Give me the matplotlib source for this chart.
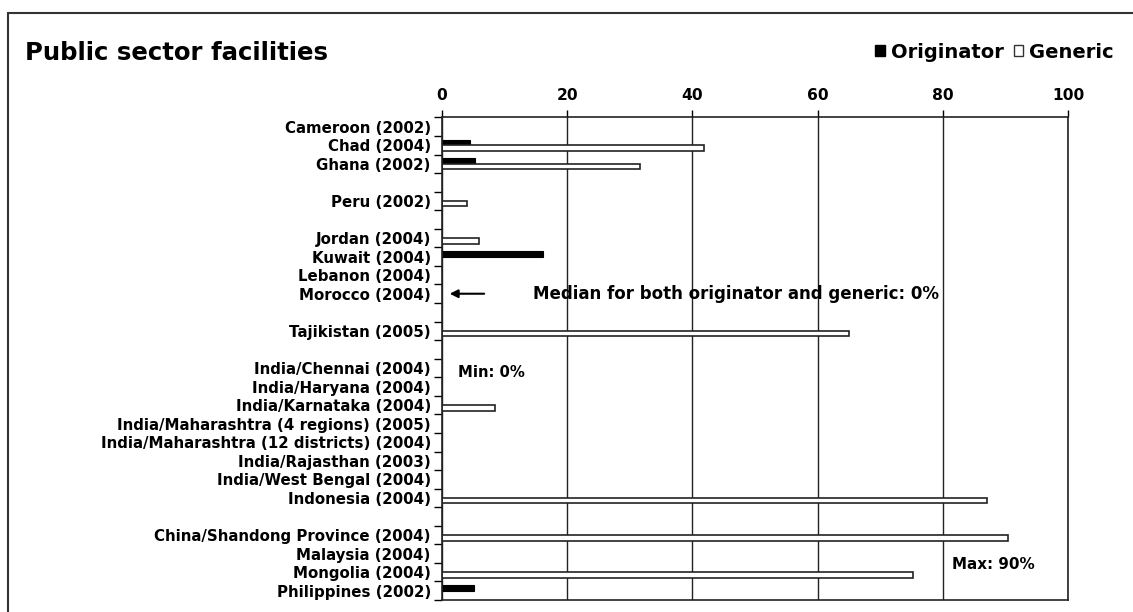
import numpy as np
import matplotlib
matplotlib.use("Agg")
import matplotlib.pyplot as plt
from matplotlib.patches import Patch, Rectangle

# Data (percent availability), blank strings are spacer rows between regions
labels = [
    "Cameroon (2002)", "Chad (2004)", "Ghana (2002)", "",
    "Peru (2002)", "",
    "Jordan (2004)", "Kuwait (2004)", "Lebanon (2004)", "Morocco (2004)", "",
    "Tajikistan (2005)", "",
    "India/Chennai (2004)", "India/Haryana (2004)", "India/Karnataka (2004)",
    "India/Maharashtra (4 regions) (2005)", "India/Maharashtra (12 districts) (2004)",
    "India/Rajasthan (2003)", "India/West Bengal (2004)", "Indonesia (2004)", "",
    "China/Shandong Province (2004)", "Malaysia (2004)", "Mongolia (2004)", "Philippines (2002)",
]
originator = [0, 4.5, 5.3, None, 0, None, 0, 16.2, 0, 0, None, 0, None,
              0, 0, 0, 0, 0, 0, 0, 0, None, 0, 0, 0, 5.2]
generic = [0, 41.9, 31.7, None, 4.0, None, 6.0, 0, 0, 0, None, 65.1, None,
           0, 0, 8.5, 0, 0, 0, 0, 87.0, None, 90.4, 0, 75.2, 0]

plt.rcParams["font.family"] = "DejaVu Sans"
plt.rcParams["font.weight"] = "bold"

fig = plt.figure(figsize=(11.33, 6.12), dpi=100)
ax = fig.add_axes([0.390, 0.0196, 0.5526, 0.7886])

y = np.arange(len(labels))
h = 0.3

for i, (o, g) in enumerate(zip(originator, generic)):
    if o:
        ax.barh(i - h / 2, o, height=h, color="black", edgecolor="black", linewidth=0.8)
    if g:
        ax.barh(i + h / 2, g, height=h, color="white", edgecolor="#222222", linewidth=1.2)

ax.set_xlim(0, 100)
ax.set_ylim(len(labels) - 0.5, -0.5)
ax.set_axisbelow(True)
ax.xaxis.grid(True, color="#222222", linewidth=1)

ax.xaxis.tick_top()
ax.set_xticks([0, 20, 40, 60, 80, 100])
ax.tick_params(axis="x", which="major", length=5, width=1, labelsize=11.2, pad=5)
for lab in ax.get_xticklabels():
    lab.set_fontweight("bold")

ax.set_yticks(np.arange(len(labels) + 1) - 0.5)
ax.set_yticklabels([])
ax.set_yticks(y, minor=True)
ax.set_yticklabels(labels, minor=True, fontsize=10.8, fontweight="bold")
ax.tick_params(axis="y", which="major", length=6, width=1, direction="out")
ax.tick_params(axis="y", which="minor", length=0, pad=8)

for s in ax.spines.values():
    s.set_color("#222222")
    s.set_linewidth(1.2)

# annotations
ax.annotate("", xy=(0.8, 9), xytext=(7.2, 9),
            arrowprops=dict(arrowstyle="-|>", color="black", lw=1.5, mutation_scale=12))
ax.text(14.5, 9, "Median for both originator and generic: 0%", fontsize=12,
        fontweight="bold", va="center", ha="left")
ax.text(2.5, 13.25, "Min: 0%", fontsize=10.7, fontweight="bold", va="center", ha="left")
ax.text(81.5, 23.6, "Max: 90%", fontsize=10.9, fontweight="bold", va="center", ha="left")

fig.text(0.022, 0.913, "Public sector facilities", fontsize=17.6, fontweight="bold",
         va="center", ha="left")

handles = [Patch(facecolor="black", edgecolor="black", label="Originator"),
           Patch(facecolor="white", edgecolor="#333333", label="Generic")]
fig.legend(handles=handles, loc="center right", bbox_to_anchor=(0.995, 0.915),
           ncol=2, frameon=False, prop={"size": 14, "weight": "bold"},
           handlelength=0.5, handleheight=0.5, handletextpad=0.3, columnspacing=0.5,
           borderpad=0.2)

# chart border (top and left visible)
fig.patches.append(Rectangle((8 / 1133, -0.1), 1.2, 1 - 13 / 612 + 0.1,
                             transform=fig.transFigure, fill=False,
                             edgecolor="#333333", linewidth=1.5))

fig.savefig("out.png", dpi=100)
